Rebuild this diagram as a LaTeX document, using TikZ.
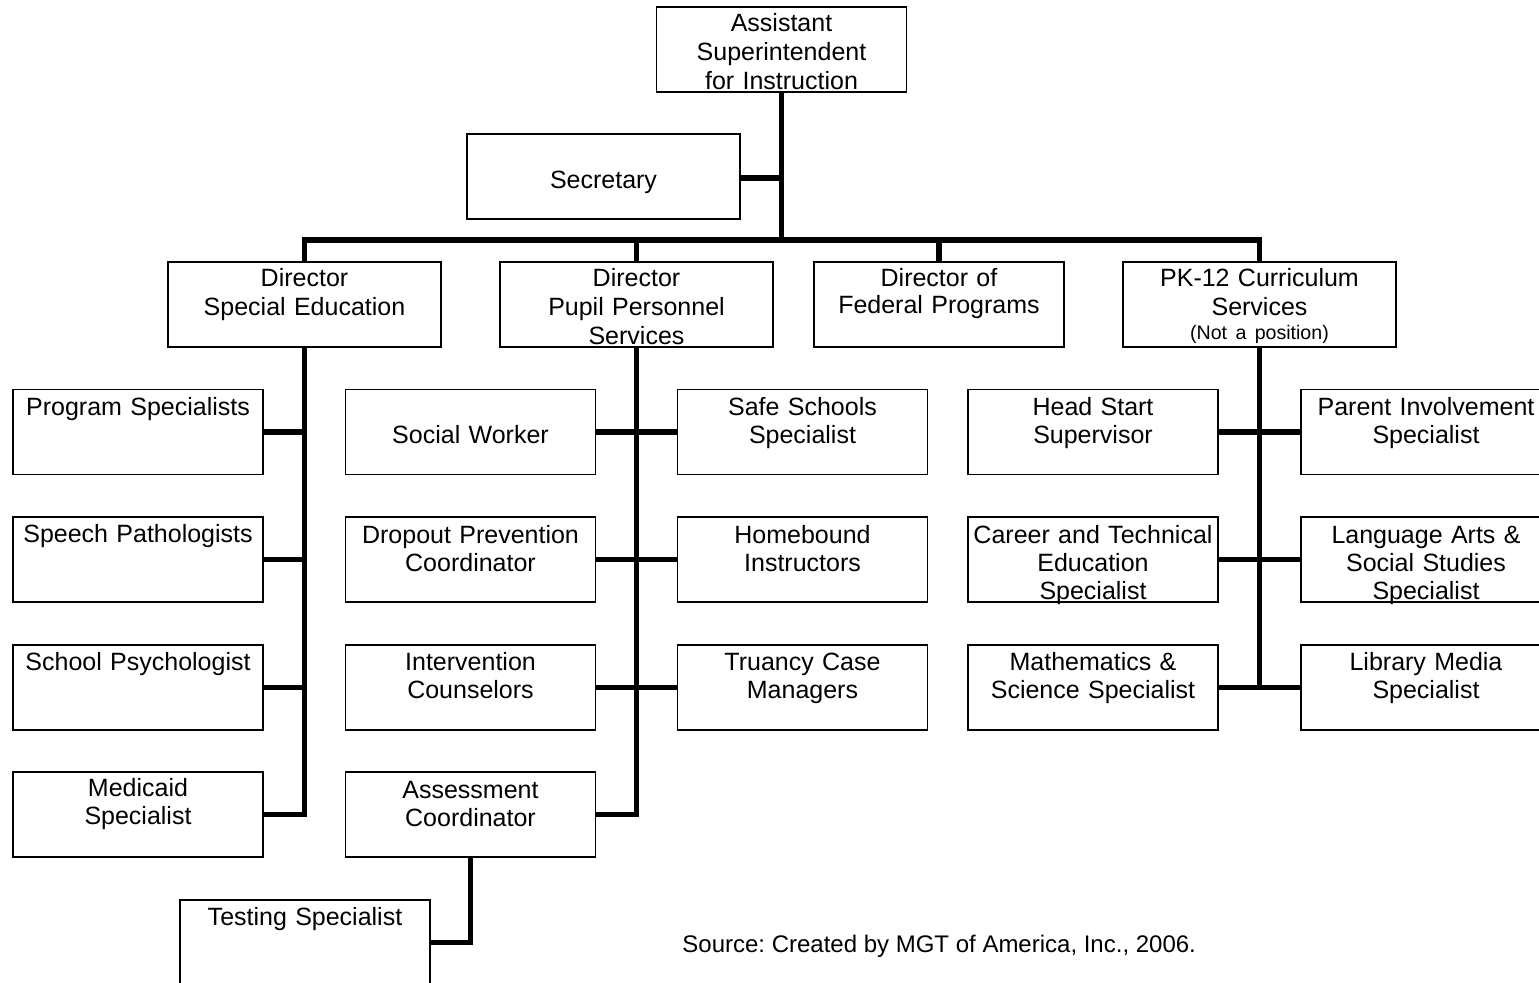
\documentclass[tikz,border=0pt]{standalone}
\usepackage{fontspec}
\setmainfont{Liberation Sans}
\frenchspacing
\begin{document}
\begin{tikzpicture}[x=0.5pt,y=-0.5pt,
  box/.style={draw, line width=0.9pt, inner sep=0pt, outer sep=0pt, minimum height=42.5pt},
  nar/.style={box, minimum width=125pt},
  wid/.style={box, minimum width=136.5pt},
  lbl/.style={anchor=base, align=center, text width=170pt, inner sep=0pt,
              font=\fontsize{12.5pt}{14pt}\selectfont},
  hlbl/.style={lbl, font=\fontsize{12.5pt}{14.5pt}\selectfont},
  conn/.style={line width=2.7pt}]
\useasboundingbox (0,0) rectangle (1539,983);
\clip (0,0) rectangle (1539,983);

% --- boxes ---
\node[nar] (top)  at (781.5,49.5) {};
\node[wid] (sec)  at (603.5,176.5) {};
\node[wid] (dse)  at (304.5,304.5) {};
\node[wid] (dpps) at (636.5,304.5) {};
\node[nar] (dfp)  at (939,304.5) {};
\node[wid] (pk)   at (1259.5,304.5) {};

% special education staff
\node[nar] (ps)  at (138,432) {};
\node[nar] (sp)  at (138,559.5) {};
\node[nar] (psy) at (138,687.5) {};
\node[nar] (med) at (138,814.5) {};

% pupil personnel services staff
\node[nar] (sw)  at (470.5,432) {};
\node[nar] (dpc) at (470.5,559.5) {};
\node[nar] (ic)  at (470.5,687.5) {};
\node[nar] (asc) at (470.5,814.5) {};
\node[nar] (ssp) at (802.5,432) {};
\node[nar] (hbi) at (802.5,559.5) {};
\node[nar] (tcm) at (802.5,687.5) {};
\node[nar] (tst) at (305,942.5) {};

% curriculum services staff
\node[nar] (hs)  at (1093,432) {};
\node[nar] (cte) at (1093,559.5) {};
\node[nar] (ms)  at (1093,687.5) {};
\node[nar] (pi)  at (1426,432) {};
\node[nar] (la)  at (1426,559.5) {};
\node[nar] (lm)  at (1426,687.5) {};

% --- connectors ---
\coordinate (bus) at (781.5,240);
\draw[conn] (top.south) -- (bus);
\draw[conn] ([yshift=-0.75pt]sec.east) -- ([yshift=-0.75pt]sec.east -| top.south);
\draw[conn] (dse.north) |- (pk.north |- bus) -- (pk.north);
\draw[conn] (dpps.north) -- (dpps.north |- bus);
\draw[conn] (dfp.north) -- (dfp.north |- bus);

\draw[conn] (dse.south) |- (med.east);
\draw[conn] (ps.east) -- (ps.east -| dse.south);
\draw[conn] (sp.east) -- (sp.east -| dse.south);
\draw[conn] (psy.east) -- (psy.east -| dse.south);

\draw[conn] (dpps.south) |- (asc.east);
\draw[conn] (sw.east) -- (ssp.west);
\draw[conn] (dpc.east) -- (hbi.west);
\draw[conn] (ic.east) -- (tcm.west);
\draw[conn] (asc.south) |- (tst.east);

\draw[conn] (pk.south) -- (pk.south |- ms.east);
\draw[conn] (hs.east) -- (pi.west);
\draw[conn] (cte.east) -- (la.west);
\draw[conn] (ms.east) -- (lm.west);

% --- labels ---
\node[hlbl] (t-top)  at (781.5,32)  {Assistant\\Superintendent\\for Instruction};
\node[lbl]  (t-sec)  at (603.5,189) {Secretary};
\node[hlbl] (t-dse)  at (304.5,287) {Director\\Special Education};
\node[hlbl] (t-dpps) at (636.5,287) {Director\\Pupil Personnel\\Services};
\node[lbl]  (t-dfp)  at (939,287)   {Director of\\[-0.5pt]Federal Programs};
\node[hlbl] (t-pk)   at (1259.5,287) {PK-12 Curriculum\\Services\\[-2.5pt]{\fontsize{9.8pt}{12pt}\selectfont (Not a position)}};

\node[lbl] (t-ps)  at (138,416) {Program Specialists};
\node[lbl] (t-sp)  at (138,543) {Speech Pathologists};
\node[lbl] (t-psy) at (138,671) {School Psychologist};
\node[lbl] (t-med) at (138,797) {Medicaid\\Specialist};

\node[lbl] (t-sw)  at (470.5,444) {Social Worker};
\node[lbl] (t-dpc) at (470.5,544) {Dropout Prevention\\Coordinator};
\node[lbl] (t-ic)  at (470.5,671) {Intervention\\Counselors};
\node[lbl] (t-asc) at (470.5,799) {Assessment\\Coordinator};
\node[lbl] (t-ssp) at (802.5,416) {Safe Schools\\Specialist};
\node[lbl] (t-hbi) at (802.5,544) {Homebound\\Instructors};
\node[lbl] (t-tcm) at (802.5,671) {Truancy Case\\Managers};
\node[lbl] (t-tst) at (305,926)   {Testing Specialist};

\node[lbl] (t-hs)  at (1093,416) {Head Start\\Supervisor};
\node[lbl] (t-cte) at (1093,544) {Career and Technical\\Education\\Specialist};
\node[lbl] (t-ms)  at (1093,671) {Mathematics \&\\Science Specialist};
\node[lbl] (t-pi)  at (1426,416) {Parent Involvement\\Specialist};
\node[lbl] (t-la)  at (1426,544) {Language Arts \&\\Social Studies\\Specialist};
\node[lbl] (t-lm)  at (1426,671) {Library Media\\Specialist};

\node[anchor=base west, inner sep=0pt, font=\fontsize{12pt}{14pt}\selectfont] (src)
  at (682,953) {Source: Created by MGT of America, Inc., 2006.};
\end{tikzpicture}
\end{document}
